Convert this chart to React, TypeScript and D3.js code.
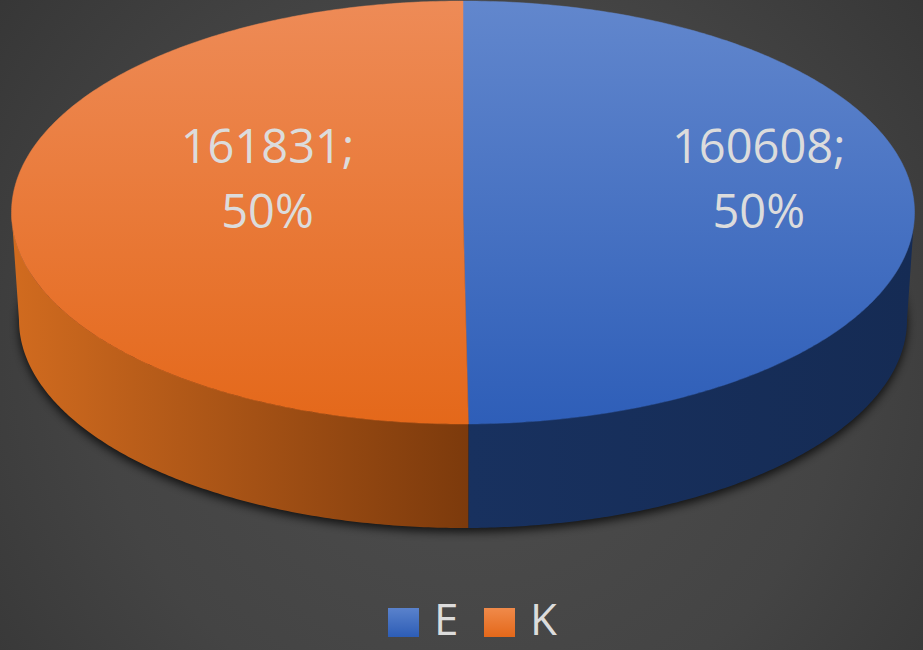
import * as d3 from 'd3';

const categories = ['E', 'K'];
const values = [160608, 161831];
const percentLabels = ['50%', '50%'];

const W = 923;
const H = 650;
const cx = 463;
const cy = 212.5;
const rx = 451.5;
const ry = 211.5;
// bottom rim is a bit smaller (Excel's slight perspective)
const bcx = 463;
const bcy = 320;
const brx = 444;
const bry = 208;

const topColors = [
  ['#6287cd', '#2e5eb8'],
  ['#ee8b57', '#e4681a'],
];
const sideColors = [
  ['#18315f', '#152b54'],
  ['#d16b1f', '#7c3a0c'],
];
const legendColors = [
  ['#5a82cc', '#2d5db6'],
  ['#f08a4a', '#e4681a'],
];

function topPt(a: number): [number, number] {
  return [cx + rx * Math.sin(a), cy - ry * Math.cos(a)];
}
function botPt(a: number): [number, number] {
  return [bcx + brx * Math.sin(a), bcy - bry * Math.cos(a)];
}

function arcPts(f: (a: number) => [number, number], a0: number, a1: number) {
  const n = Math.max(2, Math.ceil(Math.abs(a1 - a0) / 0.01));
  return d3.range(n + 1).map((i) => f(a0 + ((a1 - a0) * i) / n));
}

const line = d3.line();

export default function App() {
  const pie = d3.pie<number>().sort(null).value((d) => d);
  const arcs = pie(values);

  const front0 = Math.PI / 2;
  const front1 = (3 * Math.PI) / 2;

  return (
    <svg width={W} height={H} style={{ position: 'absolute', left: 0, top: 0 }}>
      <defs>
        <radialGradient id="bg" gradientUnits="userSpaceOnUse" cx={470} cy={360} r={620}>
          <stop offset="0" stopColor="#4e4e4e" />
          <stop offset="0.6" stopColor="#444444" />
          <stop offset="1" stopColor="#353535" />
        </radialGradient>
        {arcs.map((_, i) => (
          <linearGradient key={`t${i}`} id={`top${i}`} gradientUnits="userSpaceOnUse" x1={0} y1={0} x2={0} y2={425}>
            <stop offset="0" stopColor={topColors[i][0]} />
            <stop offset="1" stopColor={topColors[i][1]} />
          </linearGradient>
        ))}
        <linearGradient id="side0" gradientUnits="userSpaceOnUse" x1={469} y1={0} x2={915} y2={0}>
          <stop offset="0" stopColor={sideColors[0][0]} />
          <stop offset="1" stopColor={sideColors[0][1]} />
        </linearGradient>
        <linearGradient id="side1" gradientUnits="userSpaceOnUse" x1={12} y1={0} x2={469} y2={0}>
          <stop offset="0" stopColor={sideColors[1][0]} />
          <stop offset="1" stopColor={sideColors[1][1]} />
        </linearGradient>
        {legendColors.map((c, i) => (
          <linearGradient key={`l${i}`} id={`leg${i}`} x1={0} y1={0} x2={0} y2={1}>
            <stop offset="0" stopColor={c[0]} />
            <stop offset="1" stopColor={c[1]} />
          </linearGradient>
        ))}
        <filter id="shadow" x="-10%" y="-10%" width="120%" height="130%">
          <feGaussianBlur stdDeviation="5" />
        </filter>
      </defs>
      <rect width={W} height={H} fill="url(#bg)" />

      {/* shadow under the pie */}
      <path
        d={line(arcPts(botPt, 0, 2 * Math.PI).map(([x, y]) => [x, y + 4] as [number, number])) + 'Z'}
        fill="#000"
        opacity={0.75}
        filter="url(#shadow)"
      />

      {/* side walls */}
      {arcs.map((a, i) => {
        const s = Math.max(a.startAngle, front0);
        const e = Math.min(a.endAngle, front1);
        if (e <= s) return null;
        const pts = [...arcPts(topPt, s, e), ...arcPts(botPt, e, s)];
        return <path key={`s${i}`} d={line(pts) + 'Z'} fill={`url(#side${i})`} />;
      })}

      {/* top faces */}
      {arcs.map((a, i) => {
        const pts: [number, number][] = [[cx, cy], ...arcPts(topPt, a.startAngle, a.endAngle)];
        return (
          <path key={`p${i}`} d={line(pts) + 'Z'} fill={`url(#top${i})`} stroke={`url(#top${i})`} strokeWidth={0.5} />
        );
      })}

      {/* data labels */}
      {arcs.map((a, i) => {
        const mid = (a.startAngle + a.endAngle) / 2;
        const s = Math.sin(mid);
        const lx = cx + rx * s * (s > 0 ? 0.655 : 0.433);
        return (
          <text
            key={`d${i}`}
            x={lx}
            textAnchor="middle"
            fontFamily="'Open Sans', sans-serif"
            fontSize={47}
            fill="#dcdcdc"
          >
            <tspan x={lx} y={163}>{`${values[i]};`}</tspan>
            <tspan x={lx} y={228}>{percentLabels[i]}</tspan>
          </text>
        );
      })}

      {/* legend */}
      {categories.map((c, i) => {
        const x0 = 388 + i * 96;
        return (
          <g key={c}>
            <rect x={x0} y={608} width={31} height={29} fill={`url(#leg${i})`} />
            <text x={x0 + 46} y={635} fontFamily="'Open Sans', sans-serif" fontSize={44} fill="#dcdcdc">
              {c}
            </text>
          </g>
        );
      })}
    </svg>
  );
}
